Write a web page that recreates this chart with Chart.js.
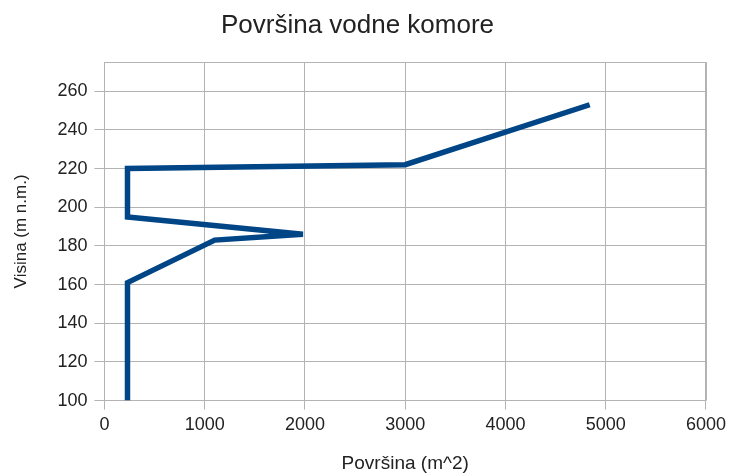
<!DOCTYPE html>
<html>
<head>
<meta charset="utf-8">
<script src="https://cdn.jsdelivr.net/npm/chart.js@4/dist/chart.umd.min.js"></script>
<style>
  html, body { margin: 0; padding: 0; background: #fff; }
  #wrap { width: 731px; height: 475px; }
</style>
</head>
<body>
<div id="wrap"><canvas id="povrsinaChart" width="731" height="475"></canvas></div>
<script>
// površina (m^2) in visina (m n.m.)
const povrsina = [230, 230, 1100, 1980, 230, 230, 3000, 4840];
const visina = [100, 161, 183, 186, 195, 220, 222, 253];
const xTicks = [0, 1000, 2000, 3000, 4000, 5000, 6000];
const yTicks = [100, 120, 140, 160, 180, 200, 220, 240, 260];

const points = povrsina.map(function (x, i) { return { x: x, y: visina[i] }; });

Chart.defaults.font.family = '"Liberation Sans", Arial, sans-serif';
Chart.defaults.color = '#222';

const gridColor = '#b3b3b3';

var ctx = document.getElementById('povrsinaChart').getContext('2d');
var chart = new Chart(ctx, {
    type: 'scatter',
    data: {
        datasets: [{
            label: 'Površina',
            data: points,
            showLine: true,
            borderColor: '#004586',
            backgroundColor: '#004586',
            borderWidth: 5.5,
            pointRadius: 0,
            borderJoinStyle: 'miter',
            tension: 0
        }]
    },
    options: {
        responsive: false,
        animation: false,
        layout: { padding: { top: 0, right: 23, bottom: 0, left: 7 } },
        plugins: {
            legend: { display: false },
            tooltip: { enabled: false },
            title: {
                display: true,
                text: 'Površina vodne komore',
                color: '#222',
                font: { size: 26, weight: 'normal' },
                padding: { top: 10, bottom: 21 }
            }
        },
        scales: {
            x: {
                type: 'linear',
                min: 0,
                max: 6000,
                afterBuildTicks: function (axis) {
                    axis.ticks = xTicks.map(function (v) { return { value: v }; });
                },
                grid: { color: gridColor, lineWidth: 1, tickLength: 9 },
                border: { color: gridColor },
                ticks: {
                    font: { size: 18 },
                    padding: 5,
                    color: '#222',
                    callback: function (v) { return String(v); }
                },
                title: {
                    display: true,
                    text: 'Površina (m^2)',
                    font: { size: 19 },
                    color: '#222',
                    padding: { top: 11, bottom: 0 }
                }
            },
            y: {
                type: 'linear',
                min: 100,
                max: 275,
                afterBuildTicks: function (axis) {
                    axis.ticks = yTicks.concat([275]).map(function (v) { return { value: v }; });
                },
                grid: {
                    color: gridColor,
                    lineWidth: 1,
                    tickLength: 10,
                    tickColor: function (c) { return c.tick && c.tick.value === 275 ? 'rgba(0,0,0,0)' : gridColor; }
                },
                border: { color: gridColor },
                ticks: {
                    font: { size: 18 },
                    padding: 7,
                    color: '#222',
                    callback: function (v) { return v === 275 ? '' : String(v); }
                },
                title: {
                    display: true,
                    text: 'Visina (m n.m.)',
                    font: { size: 17 },
                    color: '#222',
                    padding: { top: 4, bottom: 19 }
                }
            }
        }
    },
    plugins: [{
        id: 'rightBorder',
        afterDraw: function (c) {
            var a = c.chartArea, g = c.ctx;
            g.save();
            g.strokeStyle = gridColor;
            g.lineWidth = 1;
            g.beginPath();
            g.moveTo(Math.round(a.right) + 0.5, a.top);
            g.lineTo(Math.round(a.right) + 0.5, a.bottom);
            g.stroke();
            g.restore();
        }
    }]
});
</script>
</body>
</html>
